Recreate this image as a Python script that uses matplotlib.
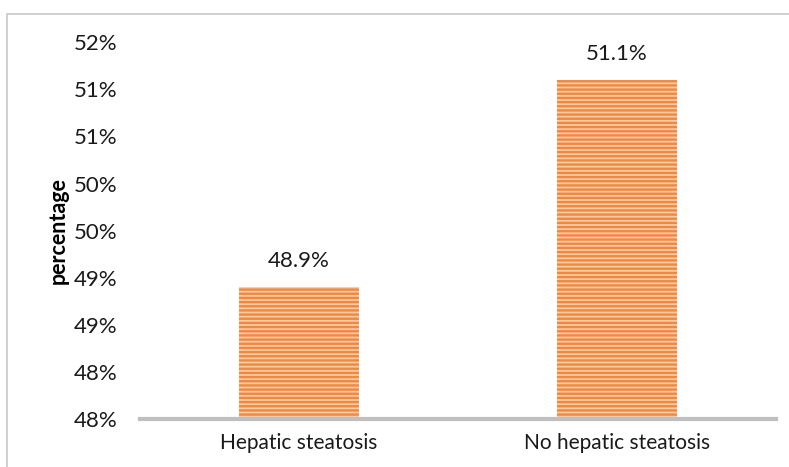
import matplotlib
matplotlib.use("Agg")
import matplotlib.pyplot as plt
from matplotlib.patches import Rectangle

categories = ["Hepatic steatosis", "No hepatic steatosis"]
values = [48.9, 51.1]
bar_labels = ["48.9%", "51.1%"]
ytick_values = [47.5, 48.0, 48.5, 49.0, 49.5, 50.0, 50.5, 51.0, 51.5]
ytick_labels = ["48%", "48%", "49%", "49%", "50%", "50%", "51%", "51%", "52%"]

plt.rcParams['font.family'] = ['Lato', 'DejaVu Sans']
plt.rcParams['hatch.color'] = '#F0883E'
plt.rcParams['hatch.linewidth'] = 1.7

NUM_FS = 16
CAT_FS = 15
fig = plt.figure(figsize=(7.89, 4.67), dpi=100)
ax = fig.add_axes([140/789, 1 - 418.7/467, 636/789, (418.7 - 42.4)/467])

x = list(range(len(categories)))
ax.bar(x, [v - 47.5 for v in values], bottom=47.5, width=0.38,
       color='#F9CBA8', linewidth=0, hatch='----')
for xi, v, lab in zip(x, values, bar_labels):
    ax.text(xi, v + 0.17, lab, ha='center', va='bottom', fontsize=NUM_FS, color='#1a1a1a')

ax.set_xlim(-0.5, 1.5)
ax.set_ylim(47.5, 51.5)
ax.set_yticks(ytick_values)
ax.set_yticklabels(ytick_labels, fontsize=NUM_FS, color='#1a1a1a')
ax.set_xticks(x)
ax.set_xticklabels(categories, fontsize=CAT_FS, color='#1a1a1a')
ax.tick_params(axis='both', length=0)
ax.tick_params(axis='y', pad=16)
ax.tick_params(axis='x', pad=10)
for s in ['top', 'right', 'left']:
    ax.spines[s].set_visible(False)
ax.spines['bottom'].set_color('#BFBFBF')
ax.spines['bottom'].set_linewidth(3)
ax.set_ylabel('percentage', fontsize=15.5, fontweight='bold', labelpad=4)

fig.patches.append(Rectangle((7/789, -0.2), 1.5, 1 - 14/467 + 0.2, transform=fig.transFigure,
                             fill=False, edgecolor='#C8C8C8', linewidth=1.2))

fig.savefig('out.png', dpi=100)
